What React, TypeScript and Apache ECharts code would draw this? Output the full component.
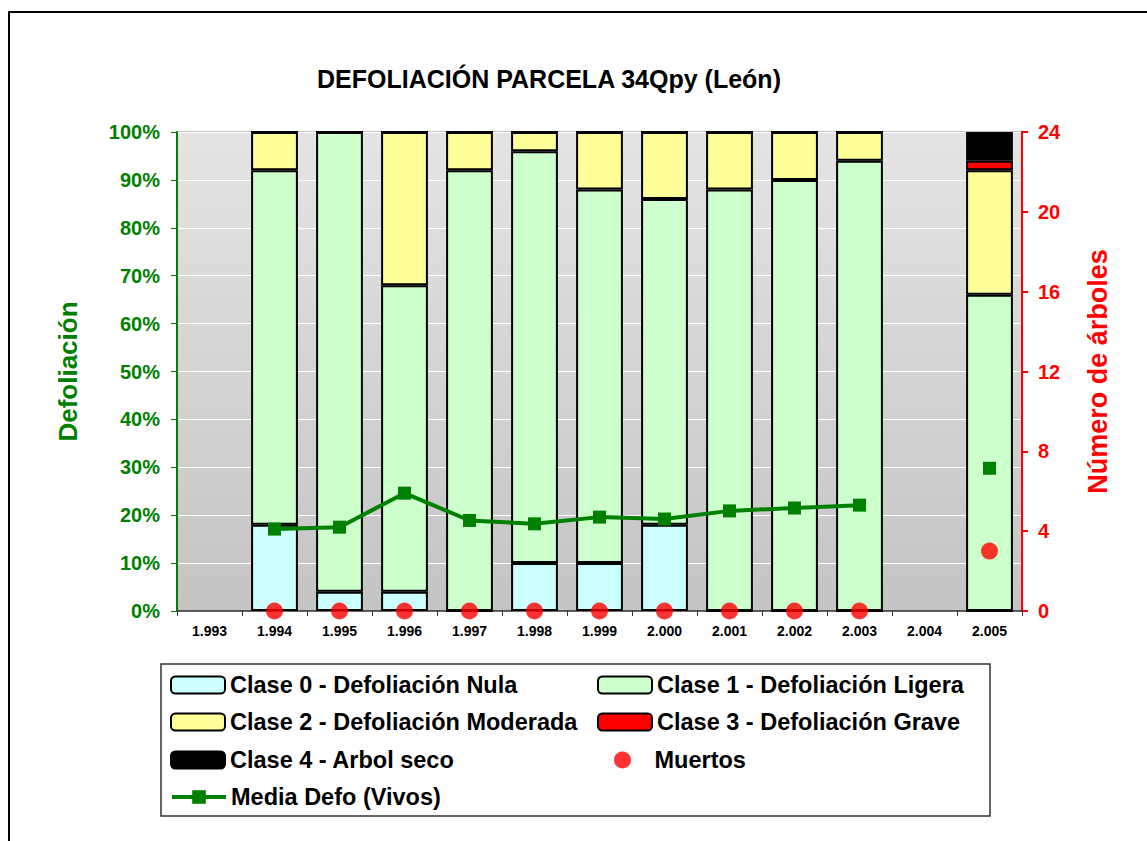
import React, { useEffect, useRef } from "react";
import * as echarts from "echarts";

const years = ["1.993", "1.994", "1.995", "1.996", "1.997", "1.998", "1.999", "2.000", "2.001", "2.002", "2.003", "2.004", "2.005"];
const clase0 = [null, 18, 4, 4, 0, 10, 10, 18, 0, 0, 0, null, 0];
const clase1 = [null, 74, 96, 64, 92, 86, 78, 68, 88, 90, 94, null, 66];
const clase2 = [null, 8, 0, 32, 8, 4, 12, 14, 12, 10, 6, null, 26];
const clase3 = [null, 0, 0, 0, 0, 0, 0, 0, 0, 0, 0, null, 2];
const clase4 = [null, 0, 0, 0, 0, 0, 0, 0, 0, 0, 0, null, 6];
const muertos = [null, 0, 0, 0, 0, 0, 0, 0, 0, 0, 0, null, 3];
const mediaDefo = [null, 17.1, 17.5, 24.6, 18.9, 18.2, 19.6, 19.2, 20.9, 21.5, 22.1, null, 29.8];

const FONT = "Liberation Sans, Arial, sans-serif";

export default function App() {
  const ref = useRef<HTMLDivElement>(null);
  useEffect(() => {
    document.body.style.margin = "0";
    const chart = echarts.init(ref.current!, null, { renderer: "svg" });
    const barBase = (name: string, data: (number | null)[], color: string) => ({
      name,
      type: "bar",
      stack: "defo",
      data,
      barWidth: "72%",
      yAxisIndex: 0,
      itemStyle: { color, borderColor: "#000", borderWidth: 2 },
    });
    const legendText = { fontFamily: FONT, fontWeight: "bold", fontSize: 23.5, color: "#000", lineHeight: 26 };
    const mkLegend = (name: string, left: number, cy: number, extra: any = {}) => ({
      data: [name],
      left,
      top: cy - 13,
      padding: 0,
      itemWidth: 54,
      itemHeight: 17,
      itemGap: 0,
      textStyle: legendText,
      selectedMode: false,
      ...extra,
    });
    chart.setOption({
      animation: false,
      textStyle: { fontFamily: FONT },
      title: {
        text: "DEFOLIACIÓN PARCELA 34Qpy (León)",
        left: 544,
        textAlign: "center",
        top: 61,
        textStyle: { fontFamily: FONT, fontWeight: "bold", fontSize: 25, color: "#000" },
      },
      grid: {
        left: 177,
        top: 132,
        width: 845,
        height: 479,
        show: true,
        borderColor: "#888",
        borderWidth: 1,
        backgroundColor: new echarts.graphic.LinearGradient(0, 0, 0, 1, [
          { offset: 0, color: "#e4e4e4" },
          { offset: 1, color: "#c4c4c4" },
        ]),
      },
      legend: [
        mkLegend("Clase 0 - Defoliación Nula", 170, 685),
        mkLegend("Clase 1 - Defoliación Ligera", 597, 685),
        mkLegend("Clase 2 - Defoliación Moderada", 170, 722),
        mkLegend("Clase 3 - Defoliación Grave", 597, 722),
        mkLegend("Clase 4 - Arbol seco", 170, 760),
        mkLegend("Muertos", 614, 760),
        mkLegend("Media Defo (Vivos)", 170, 797, { lineStyle: { width: 4 } }),
      ],
      xAxis: {
        type: "category",
        data: years,
        boundaryGap: true,
        axisLine: { lineStyle: { color: "#333", width: 1.5 } },
        axisTick: { show: true, length: 5, lineStyle: { color: "#333" } },
        axisLabel: { fontFamily: FONT, fontWeight: "bold", fontSize: 14, color: "#000", margin: 13 },
      },
      yAxis: [
        {
          type: "value",
          min: 0,
          max: 100,
          interval: 10,
          position: "left",
          name: "Defoliación",
          nameLocation: "middle",
          nameGap: 96,
          nameRotate: 90,
          nameTextStyle: { fontFamily: FONT, fontWeight: "bold", fontSize: 26, color: "#008000" },
          axisLine: { show: true, lineStyle: { color: "#008000", width: 2 } },
          axisTick: { show: true, length: 6, lineStyle: { color: "#008000" } },
          axisLabel: { formatter: "{value}%", fontFamily: FONT, fontWeight: "bold", fontSize: 20, color: "#008000", margin: 17 },
          splitLine: { show: true, lineStyle: { color: "#ffffff", width: 1 } },
        },
        {
          type: "value",
          min: 0,
          max: 24,
          interval: 4,
          position: "right",
          name: "Número de árboles",
          nameLocation: "middle",
          nameGap: 62,
          nameRotate: 90,
          nameTextStyle: { fontFamily: FONT, fontWeight: "bold", fontSize: 27, color: "#ff0000" },
          axisLine: { show: true, lineStyle: { color: "#ff0000", width: 2 } },
          axisTick: { show: true, length: 6, lineStyle: { color: "#ff0000", width: 2 } },
          axisLabel: { fontFamily: FONT, fontWeight: "bold", fontSize: 20, color: "#ff0000", margin: 16 },
          splitLine: { show: false },
        },
      ],
      series: [
        barBase("Clase 0 - Defoliación Nula", clase0, "#ccffff"),
        barBase("Clase 1 - Defoliación Ligera", clase1, "#ccffcc"),
        barBase("Clase 2 - Defoliación Moderada", clase2, "#ffff99"),
        barBase("Clase 3 - Defoliación Grave", clase3, "#ff0000"),
        barBase("Clase 4 - Arbol seco", clase4, "#000000"),
        {
          name: "Muertos",
          type: "scatter",
          yAxisIndex: 1,
          data: muertos,
          symbol: "circle",
          symbolSize: 17,
          clip: false,
          itemStyle: { color: "#ff0000" },
          z: 4,
        },
        {
          name: "Media Defo (Vivos)",
          type: "line",
          yAxisIndex: 0,
          data: mediaDefo,
          connectNulls: false,
          symbol: "rect",
          symbolSize: 13,
          showSymbol: true,
          lineStyle: { color: "#008000", width: 4 },
          itemStyle: { color: "#008000" },
          z: 5,
        },
      ],
      graphic: [
        { type: "line", shape: { x1: 8, y1: 12, x2: 1147, y2: 12 }, style: { stroke: "#000", lineWidth: 2 } },
        { type: "line", shape: { x1: 9, y1: 12, x2: 9, y2: 841 }, style: { stroke: "#000", lineWidth: 2 } },
        { type: "rect", shape: { x: 161, y: 664, width: 829, height: 152 }, style: { fill: "none", stroke: "#333", lineWidth: 1.5 } },
      ],
    });
    return () => chart.dispose();
  }, []);
  return <div ref={ref} style={{ width: 1147, height: 841 }} />;
}
